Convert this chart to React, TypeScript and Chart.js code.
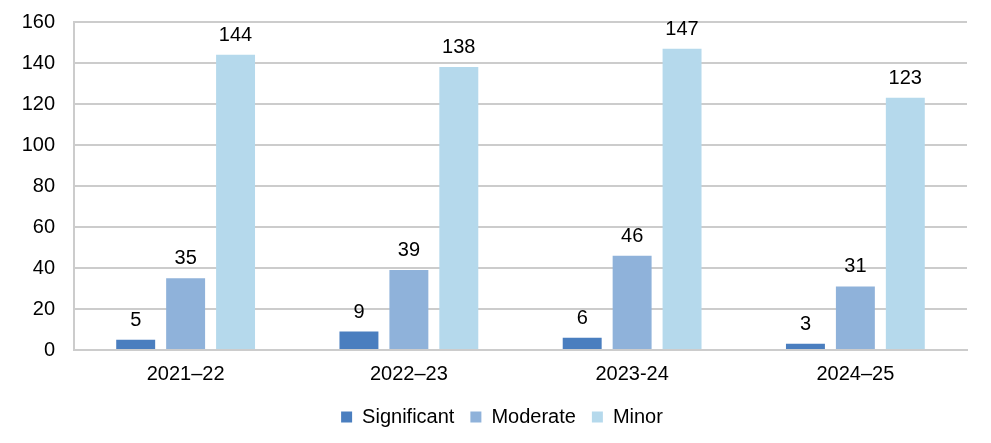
import React, { useEffect, useRef } from "react";
import { Chart, registerables } from "chart.js";

Chart.register(...registerables);

const categories = ["2021–22", "2022–23", "2023-24", "2024–25"];
const significant = [5, 9, 6, 3];
const moderate = [35, 39, 46, 31];
const minor = [144, 138, 147, 123];
const yTicks = [0, 20, 40, 60, 80, 100, 120, 140, 160];

const FONT = "'Liberation Sans', Arial, sans-serif";

const valueLabels = {
  id: "valueLabels",
  afterDatasetsDraw(chart: any) {
    const ctx = chart.ctx;
    ctx.save();
    ctx.font = `20px ${FONT}`;
    ctx.fillStyle = "#000";
    ctx.textAlign = "center";
    ctx.textBaseline = "alphabetic";
    chart.data.datasets.forEach((ds: any, i: number) => {
      const meta = chart.getDatasetMeta(i);
      meta.data.forEach((el: any, j: number) => {
        ctx.fillText(String(ds.data[j]), el.x, el.y - 14);
      });
    });
    ctx.restore();
  },
};

export default function App() {
  const ref = useRef<HTMLCanvasElement | null>(null);
  useEffect(() => {
    if (!ref.current) return;
    const chart = new Chart(ref.current, {
      type: "bar",
      data: {
        labels: categories,
        datasets: [
          { label: "Significant", data: significant, backgroundColor: "#4A7EBF" },
          { label: "Moderate", data: moderate, backgroundColor: "#8FB2DA" },
          { label: "Minor", data: minor, backgroundColor: "#B5D9EC" },
        ],
      },
      options: {
        animation: false,
        responsive: true,
        maintainAspectRatio: false,
        datasets: {
          bar: { categoryPercentage: 0.671, barPercentage: 0.78 },
        },
        layout: { padding: { top: 22, right: 0, left: 13, bottom: 6 } },
        scales: {
          x: {
            afterFit: (scale: any) => {
              scale.height = 41;
            },
            grid: { display: false, drawTicks: false },
            border: { display: true, color: "#CCCCCC", width: 2 },
            ticks: { color: "#000", font: { family: FONT, size: 20 }, padding: 12 },
          },
          y: {
            min: 0,
            max: 160,
            afterBuildTicks: (scale: any) => {
              scale.ticks = yTicks.map((v) => ({ value: v }));
            },
            afterFit: (scale: any) => {
              scale.width = 61;
              scale.paddingTop = 12;
              scale.paddingBottom = 0;
            },
            grid: { color: "#CCCCCC", lineWidth: 2, drawTicks: false },
            border: { display: true, color: "#CCCCCC", width: 2 },
            ticks: { color: "#000", font: { family: FONT, size: 20 }, padding: 19 },
          },
          spacer: {
            type: "linear",
            position: "right",
            display: true,
            min: 0,
            max: 160,
            grid: { display: false, drawTicks: false },
            border: { display: false },
            ticks: { display: false },
            afterFit: (scale: any) => {
              scale.width = 24;
              scale.paddingTop = 0;
              scale.paddingBottom = 0;
            },
          },
        },
        plugins: {
          legend: {
            position: "bottom",
            labels: {
              boxWidth: 11,
              boxHeight: 11,
              padding: 16,
              color: "#000",
              font: { family: FONT, size: 20 },
            },
          },
          tooltip: { enabled: false },
        },
      },
      plugins: [valueLabels],
    });
    return () => chart.destroy();
  }, []);
  return (
    <div style={{ position: "absolute", left: 0, top: 0, width: 991, height: 443, background: "#fff" }}>
      <canvas ref={ref} />
    </div>
  );
}
